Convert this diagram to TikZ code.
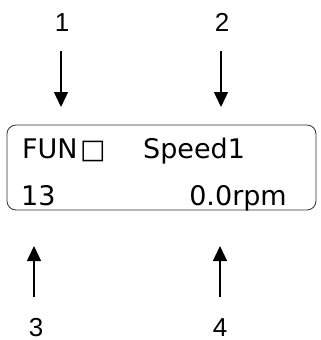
\documentclass[tikz,border=0pt]{standalone}
\usepackage{fontspec}
\setmainfont{DejaVu Sans}
\newfontfamily\numfont{Liberation Sans}
\usetikzlibrary{arrows.meta}
\begin{document}
\begin{tikzpicture}[x=1pt,y=-1pt,
  lcd/.style={font=\fontsize{27}{32}\selectfont, inner sep=0pt},
  num/.style={font=\numfont\fontsize{26}{30}\selectfont, inner sep=0pt, anchor=base},
  arr/.style={line width=1.4pt, -{Triangle[length=15pt,width=14pt]}}]
\useasboundingbox (0,0) rectangle (321,340);
\node[draw=black!80, line width=0.8pt, rounded corners=9pt, minimum width=309pt, minimum height=85pt, inner sep=0pt] (box) at (161.5,167.5) {};
\node[lcd, anchor=base west] (fun) at (22,158) {FUN};
\node[lcd, anchor=base west] (sq) at (80,158) {□};
\node[lcd, anchor=base west] (spd) at (143,158) {Speed1};
\node[lcd, anchor=base west] (n13) at (21,205) {13};
\node[lcd, anchor=base east] (rpm) at (287,205) {0.0rpm};
\node[num] (l1) at (62,31) {1};
\node[num] (l2) at (222,31) {2};
\node[num] (l3) at (36,336) {3};
\node[num] (l4) at (220,336) {4};
\coordinate (a1s) at (61,51); \coordinate (a1e) at (61,107);
\coordinate (a2s) at (221,51); \coordinate (a2e) at (221,107);
\coordinate (a3s) at (34,297); \coordinate (a3e) at (34,246);
\coordinate (a4s) at (220,297); \coordinate (a4e) at (220,246);
\draw[arr] (a1s) -- (a1e);
\draw[arr] (a2s) -- (a2e);
\draw[arr] (a3s) -- (a3e);
\draw[arr] (a4s) -- (a4e);
\end{tikzpicture}
\end{document}
